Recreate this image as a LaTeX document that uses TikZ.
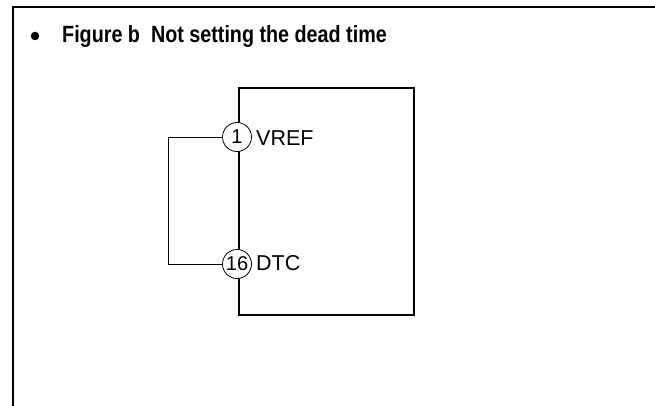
\documentclass[tikz,border=0pt]{standalone}
\usepackage{fontspec}
\setmainfont{Liberation Sans}
\begin{document}
\begin{tikzpicture}[x=1pt,y=-1pt,
  frame/.style={line width=2pt,line cap=rect},
  chip/.style={draw,line width=2pt,minimum width=175pt,minimum height=227pt,anchor=north west,inner sep=0pt},
  pin/.style={draw,circle,line width=0.8pt,fill=white,minimum size=29pt,inner sep=0pt,font=\fontsize{20}{22}\selectfont},
  pinlabel/.style={anchor=west,inner sep=0pt,font=\fontsize{21.5}{23}\selectfont},
  wire/.style={line width=0.8pt}]
\useasboundingbox (0,0) rectangle (655,406);
\draw[frame] (13,420) -- (13,7.5) -- (670,7.5);
\node[circle,fill=black,minimum size=8.5pt,inner sep=0pt] (bullet) at (35,36) {};
\node[anchor=base west,inner sep=0pt,font=\bfseries\fontsize{23.5}{25}\selectfont] (title) at (62,43) {\scalebox{0.84}[1]{Figure b\ \ Not setting the dead time}};
\node[chip] (box) at (238,87) {};
\node[pin] (p1) at (237,137) {1};
\node[pin] (p16) at (237,264) {16};
\node[pinlabel] (vref) at (256,138) {VREF};
\node[pinlabel] (dtc) at (256,263) {DTC};
\coordinate (c1) at (168,137);
\coordinate (c2) at (168,264);
\draw[wire] (p1.west) -- (c1) -- (c2) -- (p16.west);
\end{tikzpicture}
\end{document}
